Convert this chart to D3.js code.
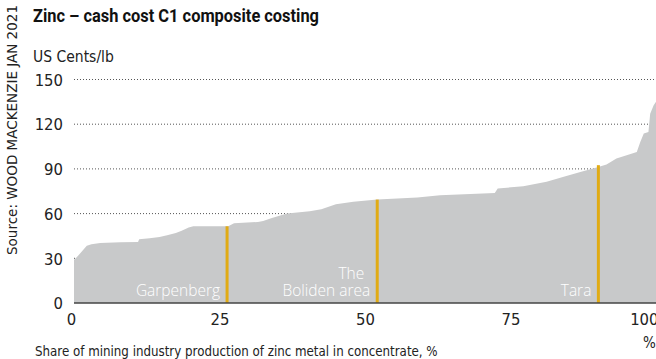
<!DOCTYPE html>
<html><head><meta charset="utf-8">
<script src="https://cdn.jsdelivr.net/npm/d3@7"></script>
<style>
body{margin:0;background:#fff;}
svg{display:block;}
</style></head>
<body>
<svg id="c" width="656" height="359"></svg>
<script>
// cumulative share of production (%)
const shares = [0, 0.3, 1.0, 2.2, 3, 4.5, 8, 11, 11.2, 13, 14.7, 16, 17.5, 18.5, 19.7, 20.5, 26.5, 27.5, 31.6, 32.5, 34, 36.6, 40.5, 42.5, 45, 48, 52.1, 59, 62.9, 72.3, 72.8, 77.2, 81.2, 84, 87, 89.8, 91.5, 93.2, 95.5, 96.7, 97.3, 97.9, 98.7, 99, 99.6, 100];
// cash cost C1, US cents/lb
const costs  = [29, 30, 33, 38.5, 39.5, 40.3, 40.8, 41, 42.8, 43.5, 44.3, 45.5, 47, 48.5, 50.6, 51.5, 51.5, 53.5, 54.4, 55, 57, 60, 61.6, 63, 66.3, 68, 69.4, 70.8, 72.3, 73.9, 76.8, 78.4, 81.3, 84.6, 88, 90.9, 92.9, 97, 99.9, 101.4, 108, 113.8, 114.8, 127, 132.7, 135];
const mines = ["Garpenberg", "The|Boliden area", "Tara"];
const mineShares = [26.3, 52.1, 90.1];
const mineCosts = [51.5, 69.4, 92.5];
const yTicks = [0, 30, 60, 90, 120, 150];
const xTicks = [0, 25, 50, 75, 100];

const svg = d3.select("#c");
const narrow = "'Liberation Sans Narrow','DejaVu Sans Condensed',sans-serif";
const x = d3.scaleLinear().domain([0, 100]).range([74, 656]);
const y = d3.scaleLinear().domain([0, 150]).range([303, 79.5]);

// title
svg.append("text").attr("x", 33).attr("y", 22)
  .attr("font-family", "Roboto, sans-serif").attr("font-weight", "bold")
  .attr("font-size", 17.5).attr("fill", "#111").attr("textLength", 286)
  .attr("lengthAdjust", "spacingAndGlyphs")
  .text("Zinc – cash cost C1 composite costing");
svg.append("text").attr("x", 33).attr("y", 62)
  .attr("font-family", narrow).attr("font-size", 15.5).attr("fill", "#222")
  .text("US Cents/lb");

// source rotated
svg.append("text").attr("transform", "translate(17,255) rotate(-90)")
  .attr("font-family", narrow).attr("font-size", 14).attr("fill", "#222")
  .attr("textLength", 250).attr("lengthAdjust", "spacingAndGlyphs")
  .text("Source: WOOD MACKENZIE JAN 2021");

// grid
svg.append("g").selectAll("line").data(yTicks.filter(d => d > 0)).join("line")
  .attr("x1", 74).attr("x2", 656).attr("y1", d => y(d)).attr("y2", d => y(d))
  .attr("stroke", "#555").attr("stroke-width", 1).attr("stroke-dasharray", "1,2");

// area
const pts = shares.map((s, i) => [s, costs[i]]);
const area = d3.area().curve(d3.curveLinear)
  .x(d => x(d[0])).y0(y(0)).y1(d => y(d[1]));
svg.append("path").datum(pts).attr("d", area).attr("fill", "#c8c9ca");

// y axis labels
const yAxis = d3.axisLeft(y).tickValues(yTicks).tickSize(0).tickPadding(0);
const ya = svg.append("g").attr("transform", "translate(63,0)").call(yAxis);
ya.select(".domain").remove();
ya.selectAll("text").attr("font-family", narrow).attr("font-size", 16.5).attr("fill", "#222").attr("dy", "0.35em");

// x axis
const xAxis = d3.axisBottom(x).tickValues(xTicks).tickSize(0).tickPadding(0);
const xa = svg.append("g").attr("transform", "translate(0,313)").call(xAxis);
xa.select(".domain").remove();
xa.selectAll("text").attr("font-family", narrow).attr("font-size", 16.5).attr("fill", "#222").attr("dy", "0.71em")
  .attr("text-anchor", d => d === 100 ? "end" : "middle")
  .attr("dx", d => d === 0 ? -3 : (d === 100 ? 2 : 0));

// mine markers
const mg = svg.append("g");
mines.forEach((m, i) => {
  mg.append("line").attr("x1", x(mineShares[i])).attr("x2", x(mineShares[i]))
    .attr("y1", y(0)).attr("y2", y(mineCosts[i]))
    .attr("stroke", "#e1ab14").attr("stroke-width", 3);
  const lines = m.split("|");
  lines.forEach((t, j) => {
    const last = j === lines.length - 1;
    mg.append("text").attr("x", x(mineShares[i]) - (last ? 7 : 13))
      .attr("y", 296 - (lines.length - 1 - j) * 17)
      .attr("text-anchor", "end").attr("font-family", "'Open Sans',sans-serif")
      .attr("font-weight", 300).attr("font-size", 15.5).attr("fill", "#fff")
      .text(t);
  });
});

// baseline
svg.append("line").attr("x1", 74).attr("x2", 656).attr("y1", y(0)).attr("y2", y(0))
  .attr("stroke", "#444").attr("stroke-width", 1.5);

// unit and caption
svg.append("text").attr("x", 643).attr("y", 348)
  .attr("font-family", narrow).attr("font-size", 15).attr("fill", "#222").text("%");
svg.append("text").attr("x", 35).attr("y", 356)
  .attr("font-family", narrow).attr("font-size", 13.2).attr("fill", "#222")
  .text("Share of mining industry production of zinc metal in concentrate, %");
</script>
</body></html>
